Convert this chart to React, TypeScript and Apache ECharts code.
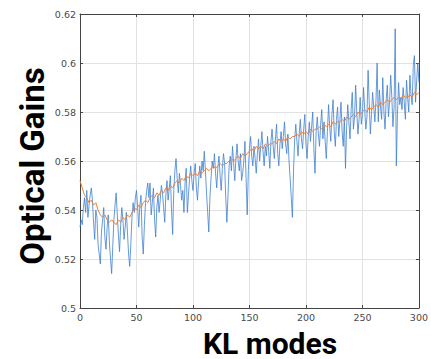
import React, { useEffect, useRef } from "react";
import * as echarts from "echarts";

const xTicks = [0, 50, 100, 150, 200, 250, 300];
const yTicks = [0.5, 0.52, 0.54, 0.56, 0.58, 0.6, 0.62];

// Blue: raw optical gains per KL mode (modes 0..300)
const blueGains = [
  0.533,
  0.536, 0.534, 0.541, 0.545, 0.539, 0.548, 0.537, 0.542, 0.546, 0.549,
  0.544, 0.535, 0.528, 0.540, 0.537, 0.526, 0.522, 0.518, 0.531, 0.536,
  0.541, 0.529, 0.524, 0.533, 0.538, 0.527, 0.520, 0.514, 0.525, 0.536,
  0.542, 0.547, 0.538, 0.530, 0.523, 0.534, 0.541, 0.536, 0.528, 0.533,
  0.539, 0.531, 0.522, 0.517, 0.526, 0.537, 0.543, 0.539, 0.545, 0.548,
  0.541, 0.533, 0.542, 0.546, 0.529, 0.522, 0.534, 0.543, 0.548, 0.551,
  0.545, 0.551, 0.538, 0.543, 0.549, 0.536, 0.529, 0.541, 0.546, 0.539,
  0.544, 0.550, 0.547, 0.541, 0.535, 0.546, 0.552, 0.544, 0.549, 0.554,
  0.540, 0.530, 0.548, 0.556, 0.561, 0.553, 0.547, 0.555, 0.550, 0.544,
  0.548, 0.539, 0.551, 0.557, 0.539, 0.546, 0.553, 0.558, 0.552, 0.548,
  0.555, 0.559, 0.549, 0.544, 0.552, 0.558, 0.553, 0.560, 0.556, 0.564,
  0.556, 0.547, 0.539, 0.531, 0.545, 0.553, 0.560, 0.557, 0.563, 0.555,
  0.549, 0.557, 0.562, 0.554, 0.548, 0.557, 0.563, 0.559, 0.545, 0.535,
  0.546, 0.558, 0.562, 0.556, 0.566, 0.559, 0.552, 0.561, 0.567, 0.560,
  0.556, 0.563, 0.552, 0.555, 0.560, 0.568, 0.553, 0.538, 0.556, 0.565,
  0.570, 0.562, 0.558, 0.566, 0.561, 0.555, 0.563, 0.569, 0.560, 0.566,
  0.572, 0.564, 0.558, 0.566, 0.562, 0.570, 0.564, 0.557, 0.568, 0.573,
  0.566, 0.561, 0.569, 0.575, 0.563, 0.558, 0.567, 0.572, 0.565, 0.570,
  0.576, 0.567, 0.563, 0.571, 0.560, 0.553, 0.545, 0.537, 0.556, 0.569,
  0.575, 0.568, 0.562, 0.571, 0.577, 0.569, 0.565, 0.573, 0.579, 0.567,
  0.561, 0.570, 0.576, 0.568, 0.574, 0.580, 0.565, 0.555, 0.572, 0.578,
  0.571, 0.566, 0.575, 0.581, 0.569, 0.576, 0.568, 0.561, 0.572, 0.583,
  0.574, 0.568, 0.579, 0.585, 0.572, 0.566, 0.577, 0.582, 0.570, 0.576,
  0.584, 0.572, 0.566, 0.578, 0.557, 0.574, 0.583, 0.576, 0.569, 0.581,
  0.588, 0.573, 0.578, 0.591, 0.580, 0.571, 0.577, 0.586, 0.575, 0.579,
  0.590, 0.581, 0.573, 0.578, 0.597, 0.584, 0.571, 0.579, 0.588, 0.582,
  0.576, 0.585, 0.600, 0.576, 0.589, 0.582, 0.577, 0.594, 0.580, 0.573,
  0.585, 0.591, 0.578, 0.584, 0.595, 0.586, 0.574, 0.582, 0.614, 0.558,
  0.579, 0.592, 0.583, 0.586, 0.581, 0.590, 0.584, 0.577, 0.593, 0.586,
  0.580, 0.595, 0.587, 0.583, 0.599, 0.603, 0.584, 0.593, 0.600, 0.592,
];

// Orange: smoothed gains, sampled every 2 modes (0,2,...,300)
const orangeGains = [
  0.552, 0.549, 0.546, 0.545, 0.543, 0.544, 0.542, 0.543, 0.540, 0.538,
  0.537, 0.538, 0.536, 0.535, 0.536, 0.535, 0.534, 0.536, 0.535, 0.537,
  0.536, 0.538, 0.537, 0.539, 0.541, 0.540, 0.542, 0.541, 0.543, 0.544,
  0.543, 0.545, 0.546, 0.545, 0.547, 0.546, 0.548, 0.547, 0.549, 0.548,
  0.550, 0.549, 0.551, 0.552, 0.551, 0.553, 0.552, 0.554, 0.553, 0.555,
  0.554, 0.555, 0.554, 0.556, 0.555, 0.556, 0.557, 0.556, 0.557, 0.558,
  0.557, 0.558, 0.559, 0.558, 0.559, 0.559, 0.560, 0.561, 0.560, 0.561,
  0.562, 0.561, 0.563, 0.562, 0.563,
  0.564, 0.565, 0.564, 0.566, 0.565, 0.566, 0.565, 0.567, 0.566, 0.567,
  0.567, 0.568, 0.567, 0.569, 0.568, 0.569, 0.568, 0.570, 0.569, 0.570,
  0.570, 0.571, 0.570, 0.572, 0.571, 0.572, 0.571, 0.573, 0.572, 0.573,
  0.573, 0.574, 0.573, 0.575, 0.574, 0.575, 0.574, 0.576, 0.575, 0.576,
  0.576, 0.577, 0.576, 0.578, 0.577, 0.578, 0.579, 0.578, 0.580, 0.579,
  0.580, 0.581, 0.580, 0.582, 0.581, 0.582, 0.583, 0.582, 0.584, 0.583,
  0.584, 0.585, 0.584, 0.585, 0.586, 0.585, 0.586, 0.585, 0.587, 0.586,
  0.586, 0.587, 0.586, 0.588, 0.587, 0.588,
];

const xName = "KL modes";
const yName = "Optical Gains";

export default function App() {
  const ref = useRef<HTMLDivElement>(null);
  useEffect(() => {
    if (!ref.current) return;
    const chart = echarts.init(ref.current, null, { renderer: "svg" });
    const blueData = blueGains.map((v, i) => [i, v]);
    const orangeData = orangeGains.map((v, i) => [i * 2, v]);
    const tickFont = { color: "#4a4a4a", fontSize: 9.5, fontFamily: "DejaVu Sans" };
    chart.setOption({
      animation: false,
      backgroundColor: "#ffffff",
      grid: { left: 80, top: 14, right: 4, bottom: 51, containLabel: false },
      xAxis: [
        {
          type: "value",
          min: 0,
          max: 300,
          interval: 50,
          position: "bottom",
          axisLine: { show: true, onZero: false, lineStyle: { color: "#444", width: 1 } },
          axisTick: { show: true, inside: true, length: 3, lineStyle: { color: "#444" } },
          axisLabel: { ...tickFont, margin: 4 },
          splitLine: { show: true, lineStyle: { color: "#e2e2e2", width: 1 } },
        },
        {
          type: "value",
          min: 0,
          max: 300,
          interval: 50,
          position: "top",
          axisLine: { show: true, onZero: false, lineStyle: { color: "#444", width: 1 } },
          axisTick: { show: true, inside: true, length: 3, lineStyle: { color: "#444" } },
          axisLabel: { show: false },
          splitLine: { show: false },
        },
      ],
      yAxis: [
        {
          type: "value",
          min: 0.5,
          max: 0.62,
          interval: 0.02,
          position: "left",
          axisLine: { show: true, onZero: false, lineStyle: { color: "#444", width: 1 } },
          axisTick: { show: true, inside: true, length: 3, lineStyle: { color: "#444" } },
          axisLabel: {
            ...tickFont,
            margin: 4,
            formatter: (v: number) => {
              const t = yTicks.find((y) => Math.abs(y - v) < 1e-9);
              return String(t !== undefined ? t : +v.toFixed(2));
            },
          },
          splitLine: { show: true, lineStyle: { color: "#e2e2e2", width: 1 } },
        },
        {
          type: "value",
          min: 0.5,
          max: 0.62,
          interval: 0.02,
          position: "right",
          axisLine: { show: true, onZero: false, lineStyle: { color: "#444", width: 1 } },
          axisTick: { show: true, inside: true, length: 3, lineStyle: { color: "#444" } },
          axisLabel: { show: false },
          splitLine: { show: false },
        },
      ],
      series: [
        {
          type: "line",
          data: blueData,
          showSymbol: false,
          lineStyle: { color: "#3f7fd0", width: 0.8 },
          xAxisIndex: 0,
          yAxisIndex: 0,
          z: 2,
        },
        {
          type: "line",
          data: orangeData,
          showSymbol: false,
          lineStyle: { color: "#e8823a", width: 1 },
          xAxisIndex: 0,
          yAxisIndex: 0,
          z: 3,
        },
      ],
      graphic: [
        {
          type: "text",
          x: 32,
          y: 166,
          rotation: Math.PI / 2,
          style: {
            text: yName,
            fill: "#000",
            font: "bold 33px Roboto",
            textAlign: "center",
            textVerticalAlign: "middle",
          },
        },
        {
          type: "text",
          x: 270,
          y: 343,
          style: {
            text: xName,
            fill: "#000",
            font: "bold 30px Roboto",
            textAlign: "center",
            textVerticalAlign: "middle",
          },
        },
      ],
    });
    return () => chart.dispose();
  }, []);
  return (
    <div
      ref={ref}
      style={{ position: "fixed", left: 0, top: 0, width: 431, height: 359 }}
    />
  );
}
